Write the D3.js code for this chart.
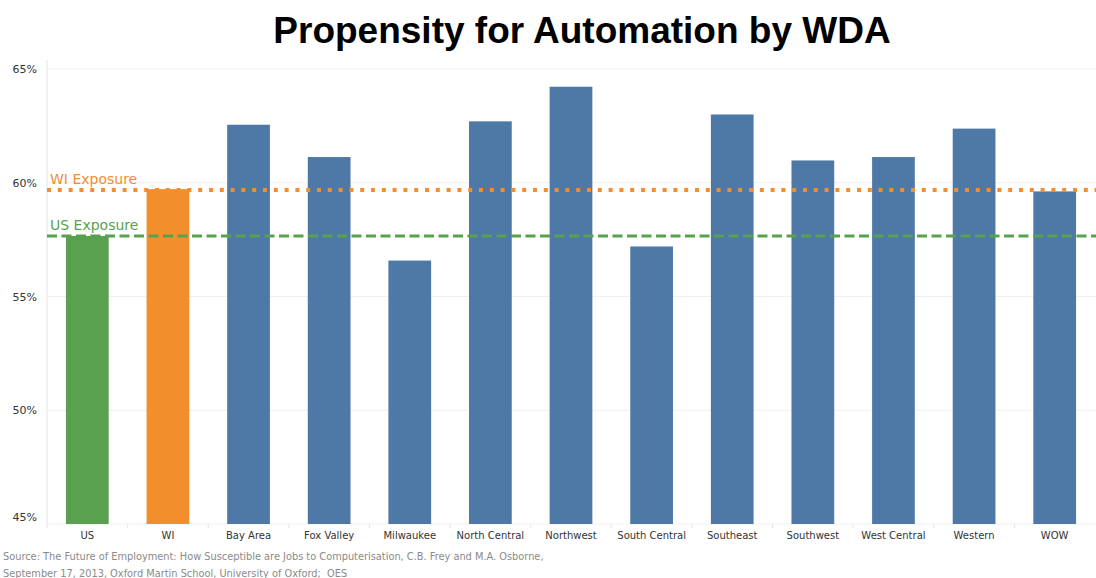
<!DOCTYPE html>
<html>
<head>
<meta charset="utf-8">
<script src="https://cdn.jsdelivr.net/npm/d3@7"></script>
<style>
  body { margin: 0; background: #fff; }
  svg text { font-family: "DejaVu Sans", Verdana, sans-serif; }
</style>
</head>
<body>
<svg id="chart" width="1096" height="578"></svg>
<script>
// data
var regions = ["US", "WI", "Bay Area", "Fox Valley", "Milwaukee", "North Central", "Northwest",
               "South Central", "Southeast", "Southwest", "West Central", "Western", "WOW"];
var exposure = [57.66, 59.72, 62.55, 61.13, 56.58, 62.7, 64.22, 57.2, 63.0, 60.98, 61.13, 62.38, 59.62];
var yTicks = [45, 50, 55, 60, 65];
var usExposure = 57.66;
var wiExposure = 59.68;

var width = 1096, height = 578;
var plotLeft = 47, plotRight = 1095, plotTop = 69, plotBottom = 524;

var svg = d3.select("#chart");

var x = d3.scaleBand().domain(regions).range([plotLeft, plotRight]).paddingInner(0.47).paddingOuter(0.235);
var y = d3.scaleLinear().domain([45, 65]).range([plotBottom, plotTop]);

function barColor(d) {
  if (d == "US") return "#59a14f";
  if (d == "WI") return "#f28e2b";
  return "#4e79a7";
}

// title
svg.append("text")
  .attr("x", 582).attr("y", 43)
  .attr("text-anchor", "middle")
  .style("font-family", "'Liberation Sans', Arial, sans-serif")
  .style("font-weight", "bold")
  .style("font-size", "37px")
  .attr("fill", "#000")
  .text("Propensity for Automation by WDA");

// gridlines
svg.append("g").selectAll("line")
  .data(yTicks)
  .enter().append("line")
  .attr("x1", plotLeft).attr("x2", width)
  .attr("y1", d => y(d)).attr("y2", d => y(d))
  .attr("stroke", "#efefef").attr("stroke-width", 1);

// y axis line
svg.append("line")
  .attr("x1", plotLeft).attr("x2", plotLeft)
  .attr("y1", 60).attr("y2", plotBottom + 4)
  .attr("stroke", "#e6e6e6");

// y tick labels
svg.append("g").selectAll("text")
  .data(yTicks)
  .enter().append("text")
  .attr("x", 37)
  .attr("y", d => d == 45 ? y(d) - 3 : y(d) + 4)
  .attr("text-anchor", "end")
  .style("font-size", "11px")
  .attr("fill", "#333")
  .text(d => d + "%");

// bars
svg.append("g").selectAll("rect")
  .data(regions)
  .enter().append("rect")
  .attr("x", d => x(d))
  .attr("width", x.bandwidth())
  .attr("y", (d, i) => y(exposure[i]))
  .attr("height", (d, i) => y(45) - y(exposure[i]))
  .attr("fill", barColor);

// x tick marks between bands
var step = x.step();
svg.append("g").selectAll("line")
  .data(regions.slice(1))
  .enter().append("line")
  .attr("x1", d => x(d) - (step - x.bandwidth()) / 2)
  .attr("x2", d => x(d) - (step - x.bandwidth()) / 2)
  .attr("y1", plotBottom).attr("y2", plotBottom + 4)
  .attr("stroke", "#e6e6e6");

// x labels
svg.append("g").selectAll("text")
  .data(regions)
  .enter().append("text")
  .attr("x", d => x(d) + x.bandwidth() / 2)
  .attr("y", 539)
  .attr("text-anchor", "middle")
  .style("font-size", "10px")
  .attr("fill", "#333")
  .text(d => d);

// reference lines
svg.append("line")
  .attr("x1", plotLeft).attr("x2", width)
  .attr("y1", y(wiExposure)).attr("y2", y(wiExposure))
  .attr("stroke", "#f28e2b").attr("stroke-width", 4)
  .attr("stroke-dasharray", "4,6.8");

svg.append("line")
  .attr("x1", plotLeft).attr("x2", width)
  .attr("y1", y(usExposure)).attr("y2", y(usExposure))
  .attr("stroke", "#59a14f").attr("stroke-width", 3)
  .attr("stroke-dasharray", "10,4.5");

svg.append("text")
  .attr("x", 50).attr("y", y(wiExposure) - 6)
  .style("font-size", "14px")
  .attr("fill", "#f28e2b")
  .text("WI Exposure");

svg.append("text")
  .attr("x", 50).attr("y", y(usExposure) - 6)
  .style("font-size", "14px")
  .attr("fill", "#59a14f")
  .text("US Exposure");

// source
var source = ["Source: The Future of Employment: How Susceptible are Jobs to Computerisation, C.B. Frey and M.A. Osborne,",
              "September 17, 2013, Oxford Martin School, University of Oxford;  OES"];
svg.append("g").selectAll("text")
  .data(source)
  .enter().append("text")
  .attr("x", 3)
  .attr("y", (d, i) => 560 + i * 17)
  .style("font-size", "9.8px")
  .style("white-space", "pre")
  .attr("fill", "#8a8a8a")
  .text(d => d);
</script>
</body>
</html>
